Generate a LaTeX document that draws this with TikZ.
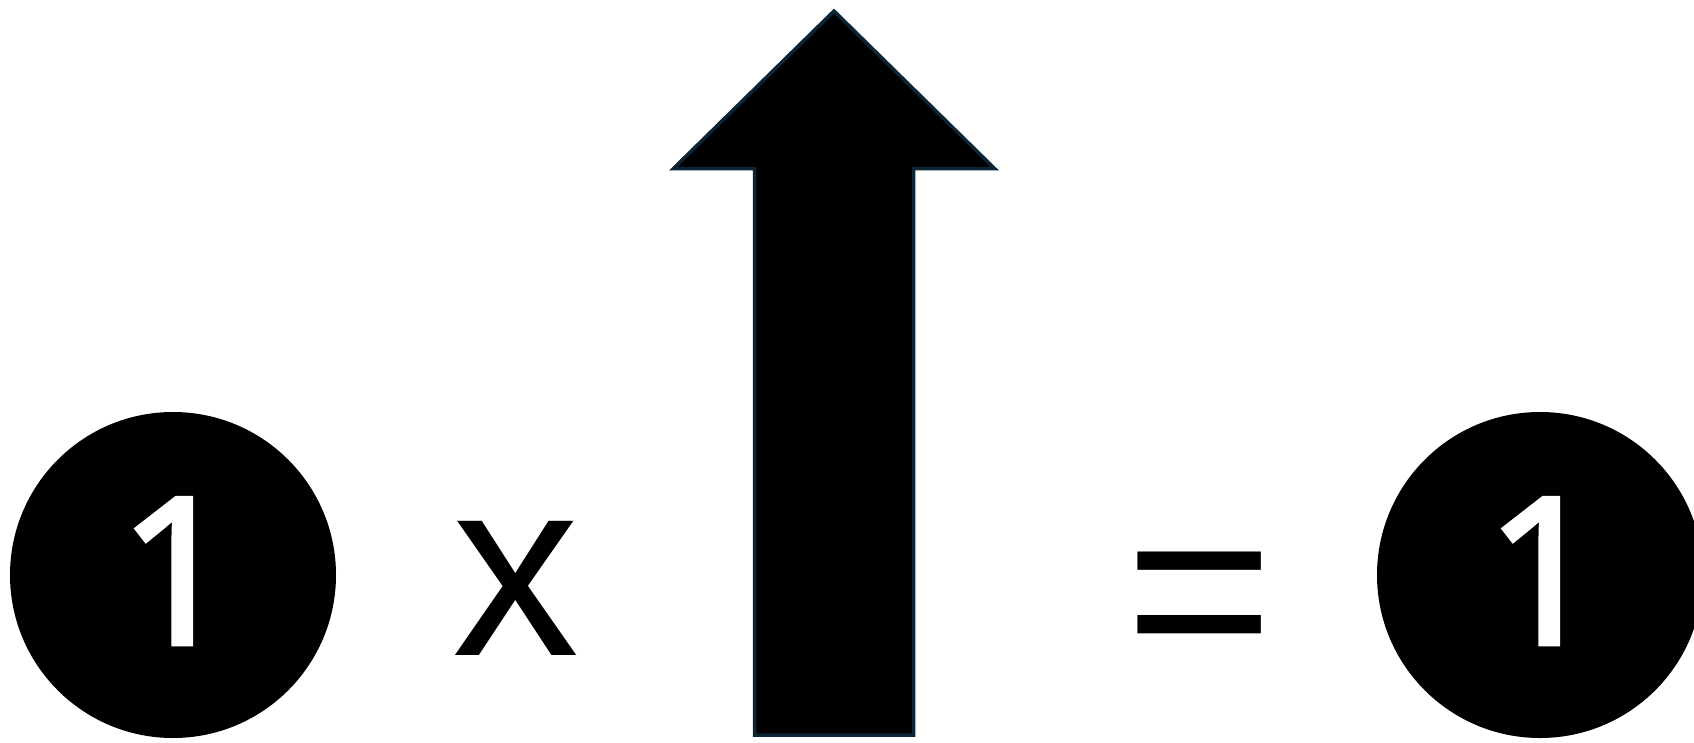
\documentclass[tikz,border=0pt]{standalone}
\usepackage{fontspec}
\setmainfont{Liberation Sans}
\newfontfamily\digitfont[FakeBold=2]{Noto Sans}
\definecolor{arrowline}{HTML}{0B2535}
\begin{document}
\begin{tikzpicture}[x=1pt,y=-1pt,
  numcircle/.style={circle,fill=black,draw=none,minimum size=326pt,inner sep=0pt,outer sep=0pt},
  digit/.style={text=white,inner sep=0pt,outer sep=0pt,font=\digitfont\fontsize{205}{205}\selectfont,anchor=north},
  sym/.style={text=black,inner sep=0pt,outer sep=0pt,font=\fontsize{254}{254}\selectfont,anchor=north},
  bigarrow/.style={fill=black,draw=arrowline,line width=3.5pt,line join=miter}]
\useasboundingbox (0,0) rectangle (1694,742);
\node[numcircle] (c1) at (173,575) {};
\node[digit] (d1) at (177,498) {1};
\node[sym] (times) at (515.5,521) {x};
\draw[bigarrow] (754.5,735) -- (754.5,168.5) -- (673.5,168.5) -- (834,11) -- (994.5,168.5) -- (913.5,168.5) -- (913.5,735) -- cycle;
\node[sym] (eq) at (1199.5,552) {=};
\node[numcircle] (c2) at (1540,575) {};
\node[digit] (d2) at (1544,498) {1};
\end{tikzpicture}
\end{document}
